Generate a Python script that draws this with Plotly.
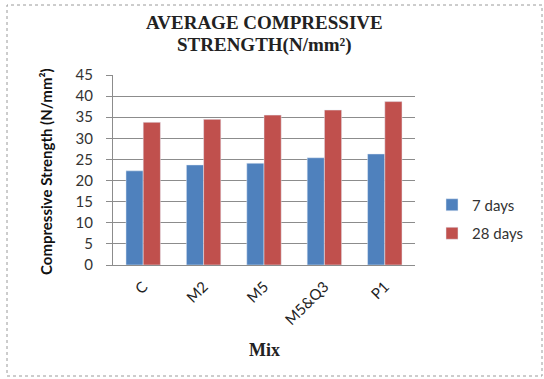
import plotly.graph_objects as go

mixes = ["C", "M2", "M5", "M5&Q3", "P1"]
days7 = [22.3, 23.7, 24.1, 25.4, 26.3]
days28 = [33.8, 34.5, 35.5, 36.7, 38.7]
series_names = ["7 days", "28 days"]
y_ticks = [0, 5, 10, 15, 20, 25, 30, 35, 40, 45]

L, R, T, B = 113, 129, 75, 114
W, H = 544, 379
pw, ph = W - L - R, H - T - B

fig = go.Figure()
fig.add_trace(go.Bar(x=mixes, y=days7, name=series_names[0], marker_color="#4F81BD",
                     legendgroup="a"))
fig.add_trace(go.Bar(x=mixes, y=days28, name=series_names[1], marker_color="#C0504D",
                     legendgroup="b"))

def px_x(p):
    return (p - L) / pw

def px_y(p):
    return (H - B - p) / ph

SANS = "Lato"
SERIF = "Liberation Serif"

fig.update_layout(
    width=W, height=H,
    margin=dict(l=L, r=R, t=T, b=B, autoexpand=False),
    paper_bgcolor="white", plot_bgcolor="white",
    barmode="group", bargap=0.43, bargroupgap=0,
    font=dict(family=SANS, color="#333"),
    legend=dict(x=px_x(432), y=px_y(219), xanchor="left", yanchor="middle",
                font=dict(size=15, color="#333"), tracegroupgap=6,
                bgcolor="rgba(0,0,0,0)"),
    showlegend=True,
    shapes=[dict(type="rect", xref="paper", yref="paper",
                 x0=px_x(7), x1=px_x(542), y0=px_y(376), y1=px_y(5),
                 line=dict(color="#9a9a9a", width=1, dash="dot"), layer="below")],
    annotations=[
        dict(text="<b>AVERAGE COMPRESSIVE</b>", xref="paper", yref="paper",
             x=0.5, y=px_y(22), xanchor="center", yanchor="middle", showarrow=False,
             font=dict(family=SERIF, size=19, color="#222")),
        dict(text="<b>STRENGTH(N/mm²)</b>", xref="paper", yref="paper",
             x=0.5, y=px_y(45), xanchor="center", yanchor="middle", showarrow=False,
             font=dict(family=SERIF, size=19, color="#222")),
        dict(text="<b>Mix</b>", xref="paper", yref="paper", x=0.5, y=px_y(350),
             xanchor="center", yanchor="middle", showarrow=False,
             font=dict(family=SERIF, size=18, color="#222")),
        dict(text="<b>Compressive Strength (N/mm²)</b>", xref="paper", yref="paper",
             x=px_x(46), y=px_y(172), xanchor="center", yanchor="middle",
             textangle=-90, showarrow=False,
             font=dict(family=SANS, size=15, color="#111")),
    ],
)
fig.update_xaxes(
    automargin=False,
    showline=True, linecolor="#8c8c8c", linewidth=1,
    tickangle=-45, tickfont=dict(size=15, color="#222"),
    ticklabelstandoff=6,
    ticks="", showgrid=False,
)
fig.update_yaxes(
    automargin=False,
    range=[0, 45], tickvals=y_ticks,
    showline=True, linecolor="#8c8c8c", linewidth=1,
    showgrid=True, gridcolor="#8c8c8c", gridwidth=1,
    ticks="outside", ticklen=6, tickcolor="#8c8c8c",
    ticklabelstandoff=10,
    tickfont=dict(size=15, color="#333"),
    zeroline=False,
)

fig.write_html("out.html", config={"displayModeBar": False},
               post_script="document.body.style.margin='0px';")
